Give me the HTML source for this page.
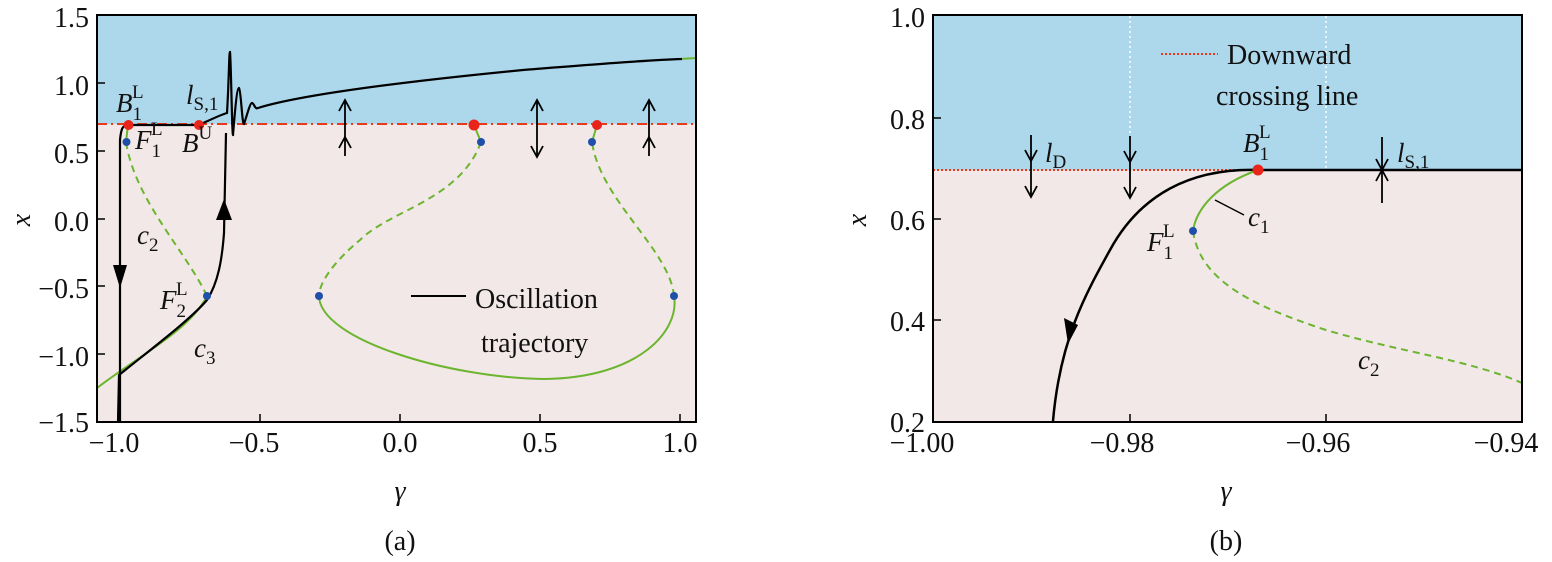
<!DOCTYPE html>
<html><head><meta charset="utf-8"><style>
body{margin:0;background:#fff}
svg text{font-family:"Liberation Serif",serif;fill:#111}
</style></head><body>
<svg width="1552" height="557" viewBox="0 0 1552 557" xmlns="http://www.w3.org/2000/svg">
<!-- LEFT PLOT -->
<rect x="97" y="15" width="599" height="109" fill="#add8ec"/>
<rect x="97" y="124" width="599" height="298" fill="#f2e8e8"/>
<line x1="97" y1="124" x2="696" y2="124" stroke="#e8391b" stroke-width="2" stroke-dasharray="10,4,2,4"/>
<g fill="none" stroke="#6cb52f" stroke-width="2">
<path d="M97,388 C140,355 190,330 207,296"/>
<path d="M207,296 C185,250 135,200 126,142" stroke-dasharray="7,5"/>
<path d="M126,142 L128,125"/>
<path d="M474,125 L481,142"/>
<path d="M481,142 C460,200 390,210 360,240 C330,265 319,285 319,296" stroke-dasharray="7,5"/>
<path d="M319,296 C320,340 450,378 544,379 C640,378 680,330 674,296"/>
<path d="M674,296 C670,250 600,200 592,142" stroke-dasharray="7,5"/>
<path d="M592,142 L597,125"/>
<path d="M680,59 L696,58"/>
</g>
<g fill="none" stroke="#000" stroke-width="2.2">
<path d="M120,422 L120,140 C121,130 122,125 128,125 L199,125 C210,120 220,115 227,113 C229,80 229,52 230,52 C231,60 232,135 233,135 C235,110 237,88 239,88 C241,90 242,124 244,124 C247,115 250,103 252,103 C254,103 255,110 258,108 C300,95 400,82 523,70 C600,64 650,60 682,59"/>
<path d="M118,422 L119,375 C150,350 190,320 207,300 C218,283 222,260 224,233 L226,133"/>
</g>
<path d="M113,265 L127,265 L120,288 z" fill="#000"/>
<path d="M216,220 L232,220 L224,199 z" fill="#000"/>
<g fill="#e8241b"><circle cx="128.5" cy="125" r="5"/><circle cx="199" cy="125" r="5"/><circle cx="474" cy="125" r="5.5"/><circle cx="597" cy="125" r="5"/></g>
<g fill="#1f4fa8"><circle cx="126.5" cy="142" r="4"/><circle cx="481" cy="142" r="4"/><circle cx="592" cy="142" r="4"/><circle cx="207" cy="296" r="4"/><circle cx="319" cy="296" r="4"/><circle cx="674" cy="296" r="4"/></g>
<g stroke="#000" stroke-width="1.8" fill="none">
<line x1="345" y1="101" x2="345" y2="156"/><path d="M339,111 L345,100 L351,111 M339,148 L345,137 L351,148"/>
<line x1="537" y1="101" x2="537" y2="156"/><path d="M531,111 L537,100 L543,111 M531,146 L537,157 L543,146"/>
<line x1="649" y1="101" x2="649" y2="156"/><path d="M643,111 L649,100 L655,111 M643,148 L649,137 L655,148"/>
</g>
<line x1="411" y1="296" x2="466" y2="296" stroke="#000" stroke-width="2"/>
<text x="475" y="308" font-size="28">Oscillation</text>
<text x="481" y="352" font-size="28">trajectory</text>
<g font-size="27" font-style="italic">
<text x="116" y="112">B<tspan font-size="19" font-style="normal" dy="8">1</tspan><tspan font-size="19" font-style="normal" dx="-10" dy="-22">L</tspan></text>
<text x="186" y="104">l<tspan font-size="19" font-style="normal" dy="6">S,1</tspan></text>
<text x="135" y="149">F<tspan font-size="19" font-style="normal" dy="8">1</tspan><tspan font-size="19" font-style="normal" dx="-10" dy="-22">L</tspan></text>
<text x="182" y="152">B<tspan font-size="19" font-style="normal" dy="-13">U</tspan></text>
<text x="137" y="244">c<tspan font-size="19" font-style="normal" dy="7">2</tspan></text>
<text x="160" y="309">F<tspan font-size="19" font-style="normal" dy="8">2</tspan><tspan font-size="19" font-style="normal" dx="-10" dy="-22">L</tspan></text>
<text x="194" y="357">c<tspan font-size="19" font-style="normal" dy="7">3</tspan></text>
</g>
<rect x="97" y="15" width="599" height="407" fill="none" stroke="#000" stroke-width="2"/>
<g stroke="#000" stroke-width="1.5">
<line x1="120" y1="422" x2="120" y2="414"/><line x1="260" y1="422" x2="260" y2="414"/><line x1="400" y1="422" x2="400" y2="414"/><line x1="540" y1="422" x2="540" y2="414"/><line x1="680" y1="422" x2="680" y2="414"/>
<line x1="97" y1="15" x2="105" y2="15"/><line x1="97" y1="83" x2="105" y2="83"/><line x1="97" y1="151" x2="105" y2="151"/><line x1="97" y1="219" x2="105" y2="219"/><line x1="97" y1="286" x2="105" y2="286"/><line x1="97" y1="354" x2="105" y2="354"/><line x1="97" y1="422" x2="105" y2="422"/>
</g>
<g font-size="28" text-anchor="end">
<text x="89" y="27">1.5</text><text x="89" y="95">1.0</text><text x="89" y="163">0.5</text><text x="89" y="231">0.0</text><text x="89" y="298">−0.5</text><text x="89" y="366">−1.0</text><text x="89" y="432">−1.5</text>
</g>
<g font-size="28" text-anchor="middle">
<text x="114" y="452">−1.0</text><text x="254" y="452">−0.5</text><text x="400" y="452">0.0</text><text x="540" y="452">0.5</text><text x="680" y="452">1.0</text>
<text x="400" y="500" font-style="italic">γ</text>
<text x="400" y="550">(a)</text>
</g>
<text x="0" y="0" font-size="28" font-style="italic" transform="translate(30,220) rotate(-90)" text-anchor="middle">x</text>

<!-- RIGHT PLOT -->
<rect x="933" y="15" width="589" height="155" fill="#add8ec"/>
<rect x="933" y="170" width="589" height="252" fill="#f2e8e8"/>
<g stroke="#fff" stroke-width="1.5" stroke-dasharray="2,3"><line x1="1130" y1="16" x2="1130" y2="168"/><line x1="1326" y1="16" x2="1326" y2="168"/></g>
<line x1="933" y1="170" x2="1258" y2="170" stroke="#e8391b" stroke-width="2" stroke-dasharray="2,2"/>
<line x1="1258" y1="170" x2="1522" y2="170" stroke="#000" stroke-width="2.5"/>
<path d="M1258,170 C1190,168 1140,195 1110,250 C1085,295 1060,340 1053,421" fill="none" stroke="#000" stroke-width="2.5"/>
<path d="M1064,318 L1078,325 L1068,344 z" fill="#000"/>
<path d="M1193,231 C1196,210 1215,185 1258,170" fill="none" stroke="#6cb52f" stroke-width="2"/>
<path d="M1193,231 C1200,280 1250,305 1326,330 C1400,352 1470,360 1522,383" fill="none" stroke="#6cb52f" stroke-width="2" stroke-dasharray="7,5"/>
<line x1="1215" y1="200" x2="1244" y2="215" stroke="#000" stroke-width="1.5"/>
<circle cx="1258" cy="170" r="5.5" fill="#e8241b"/>
<circle cx="1193" cy="231" r="4" fill="#1f4fa8"/>
<g stroke="#000" stroke-width="1.8" fill="none">
<line x1="1031" y1="135" x2="1031" y2="197"/><path d="M1025,150 L1031,161 L1037,150 M1025,186 L1031,197 L1037,186"/>
<line x1="1130" y1="136" x2="1130" y2="198"/><path d="M1124,151 L1130,162 L1136,151 M1124,187 L1130,198 L1136,187"/>
<line x1="1382" y1="137" x2="1382" y2="203"/><path d="M1376,159 L1382,170 L1388,159 M1376,181 L1382,170 L1388,181"/>
</g>
<line x1="1161" y1="54" x2="1218" y2="54" stroke="#e8391b" stroke-width="2" stroke-dasharray="2,2"/>
<text x="1227" y="64" font-size="28">Downward</text>
<text x="1216" y="105" font-size="28">crossing line</text>
<g font-size="27" font-style="italic">
<text x="1045" y="162">l<tspan font-size="19" font-style="normal" dy="6">D</tspan></text>
<text x="1243" y="152">B<tspan font-size="19" font-style="normal" dy="8">1</tspan><tspan font-size="19" font-style="normal" dx="-10" dy="-22">L</tspan></text>
<text x="1397" y="162">l<tspan font-size="19" font-style="normal" dy="6">S,1</tspan></text>
<text x="1248" y="226">c<tspan font-size="19" font-style="normal" dy="7">1</tspan></text>
<text x="1147" y="251">F<tspan font-size="19" font-style="normal" dy="8">1</tspan><tspan font-size="19" font-style="normal" dx="-10" dy="-22">L</tspan></text>
<text x="1358" y="369">c<tspan font-size="19" font-style="normal" dy="7">2</tspan></text>
</g>
<rect x="933" y="15" width="589" height="407" fill="none" stroke="#000" stroke-width="2"/>
<g stroke="#000" stroke-width="1.5">
<line x1="1130" y1="422" x2="1130" y2="414"/><line x1="1326" y1="422" x2="1326" y2="414"/>
<line x1="933" y1="118" x2="941" y2="118"/><line x1="933" y1="219" x2="941" y2="219"/><line x1="933" y1="320" x2="941" y2="320"/>
</g>
<g font-size="28" text-anchor="end">
<text x="925" y="27">1.0</text><text x="925" y="129">0.8</text><text x="925" y="230">0.6</text><text x="925" y="331">0.4</text><text x="925" y="432">0.2</text>
</g>
<g font-size="28" text-anchor="middle">
<text x="922" y="452">−1.00</text><text x="1122" y="452">−0.98</text><text x="1318" y="452">−0.96</text><text x="1506" y="452">−0.94</text>
<text x="1226" y="500" font-style="italic">γ</text>
<text x="1226" y="550">(b)</text>
</g>
<text x="0" y="0" font-size="28" font-style="italic" transform="translate(866,220) rotate(-90)" text-anchor="middle">x</text>
</svg>
</body></html>
